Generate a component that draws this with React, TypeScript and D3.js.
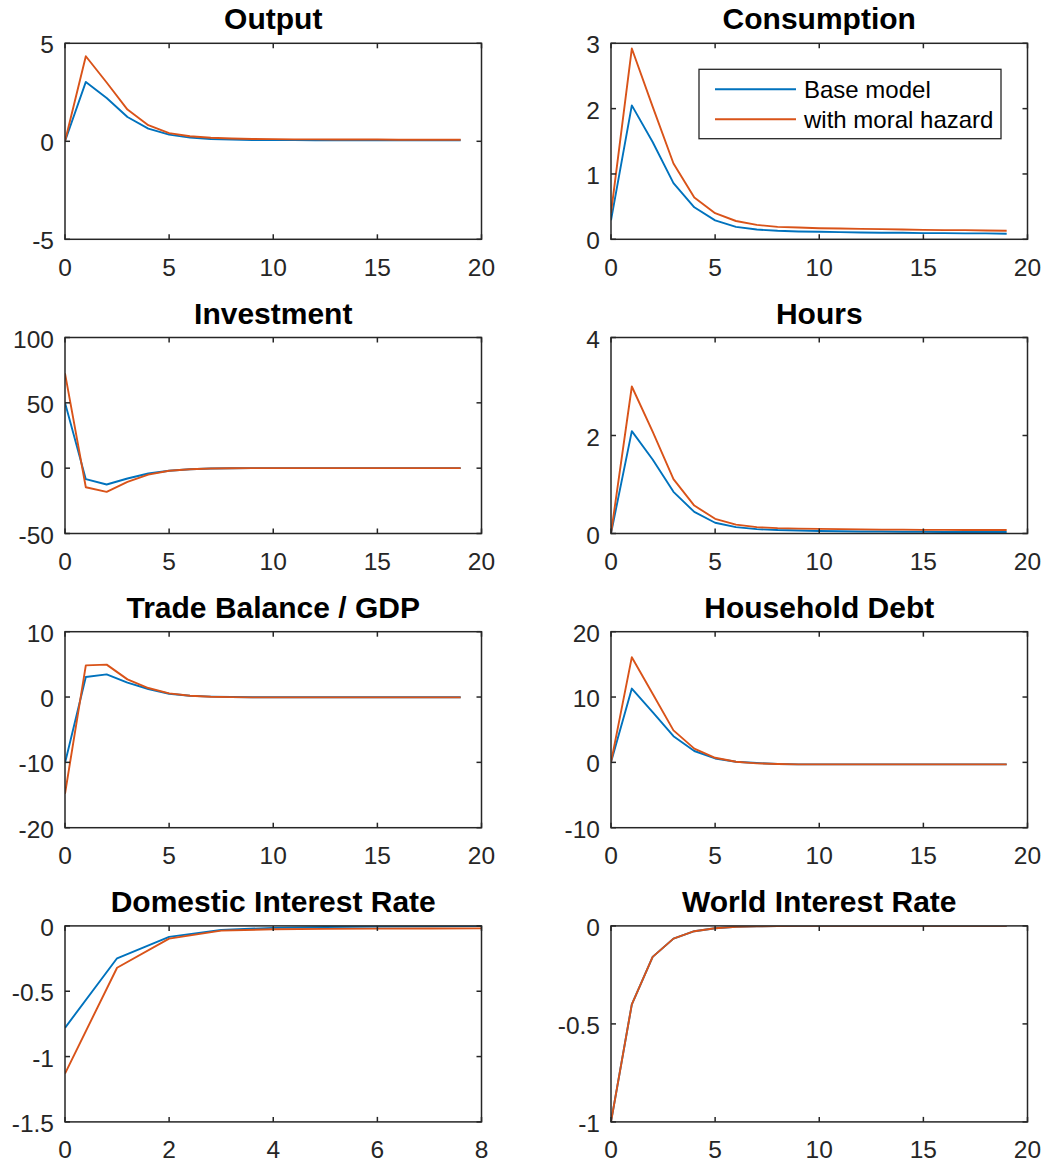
import React from "react";
import * as d3 from "d3";

// Impulse responses: base model vs. model with moral hazard
const periods = [0, 1, 2, 3, 4, 5, 6, 7, 8, 9, 10, 11, 12, 13, 14, 15, 16, 17, 18, 19];
const shortPeriods = [0, 1, 2, 3, 4, 5, 6, 7, 8];

const outputBase = [0, 3.03, 2.21, 1.24, 0.65, 0.34, 0.19, 0.12, 0.09, 0.07, 0.06, 0.06, 0.05, 0.05, 0.05, 0.05, 0.05, 0.05, 0.05, 0.05];
const outputMH = [0, 4.34, 3.0, 1.62, 0.82, 0.42, 0.26, 0.18, 0.14, 0.12, 0.11, 0.1, 0.1, 0.09, 0.09, 0.09, 0.08, 0.08, 0.08, 0.08];

const consBase = [0.29, 2.05, 1.49, 0.86, 0.49, 0.29, 0.19, 0.15, 0.13, 0.12, 0.115, 0.11, 0.105, 0.1, 0.1, 0.095, 0.095, 0.09, 0.09, 0.085];
const consMH = [0.4, 2.92, 2.03, 1.16, 0.64, 0.4, 0.28, 0.22, 0.19, 0.18, 0.17, 0.165, 0.16, 0.155, 0.15, 0.145, 0.14, 0.14, 0.135, 0.13];

const invBase = [50.1, -8.4, -12.5, -7.9, -4.1, -2.0, -0.8, -0.3, -0.1, 0, 0, 0, 0, 0, 0, 0, 0, 0, 0, 0];
const invMH = [72.6, -14.6, -18.1, -10.5, -4.9, -2.0, -0.8, -0.3, -0.1, 0, 0, 0, 0, 0, 0, 0, 0, 0, 0, 0];

const hoursBase = [0, 2.09, 1.51, 0.85, 0.44, 0.22, 0.13, 0.09, 0.07, 0.06, 0.05, 0.045, 0.04, 0.04, 0.035, 0.035, 0.03, 0.03, 0.03, 0.03];
const hoursMH = [0, 3.0, 2.08, 1.11, 0.57, 0.3, 0.18, 0.13, 0.11, 0.1, 0.095, 0.09, 0.085, 0.08, 0.08, 0.075, 0.075, 0.07, 0.07, 0.07];

const tbBase = [-10.1, 3.07, 3.47, 2.2, 1.23, 0.5, 0.2, 0.07, 0.0, -0.03, -0.04, -0.04, -0.04, -0.04, -0.03, -0.03, -0.03, -0.03, -0.03, -0.03];
const tbMH = [-14.8, 4.85, 4.96, 2.7, 1.38, 0.56, 0.2, 0.05, -0.02, -0.05, -0.05, -0.05, -0.05, -0.05, -0.05, -0.05, -0.05, -0.05, -0.05, -0.05];

const debtBase = [0, 11.3, 7.7, 4.0, 1.74, 0.6, 0.1, -0.1, -0.25, -0.3, -0.3, -0.3, -0.3, -0.3, -0.3, -0.3, -0.3, -0.3, -0.3, -0.3];
const debtMH = [0, 16.1, 10.5, 4.9, 2.1, 0.7, 0.1, -0.15, -0.25, -0.3, -0.3, -0.3, -0.3, -0.3, -0.3, -0.3, -0.3, -0.3, -0.3, -0.3];

const domRateBase = [-0.78, -0.248, -0.084, -0.031, -0.015, -0.008, -0.005, -0.003, -0.002];
const domRateMH = [-1.13, -0.32, -0.097, -0.036, -0.026, -0.023, -0.021, -0.02, -0.019];

const worldRateBase = [-1, -0.4, -0.158, -0.065, -0.027, -0.012, -0.005, -0.002, -0.001, 0, 0, 0, 0, 0, 0, 0, 0, 0, 0, 0];
const worldRateMH = [-1, -0.4, -0.158, -0.065, -0.027, -0.012, -0.005, -0.002, -0.001, 0, 0, 0, 0, 0, 0, 0, 0, 0, 0, 0];

const xTicks20 = [0, 5, 10, 15, 20];
const xTicks8 = [0, 2, 4, 6, 8];

const seriesNames = ["Base model", "with moral hazard"];
const seriesColors = ["#0072BD", "#D95319"];

type Panel = {
  title: string;
  x: number[];
  xDomain: [number, number];
  xTicks: number[];
  yDomain: [number, number];
  yTicks: number[];
  base: number[];
  mh: number[];
  legend?: boolean;
};

const panels: Panel[] = [
  { title: "Output", x: periods, xDomain: [0, 20], xTicks: xTicks20, yDomain: [-5, 5], yTicks: [-5, 0, 5], base: outputBase, mh: outputMH },
  { title: "Consumption", x: periods, xDomain: [0, 20], xTicks: xTicks20, yDomain: [0, 3], yTicks: [0, 1, 2, 3], base: consBase, mh: consMH, legend: true },
  { title: "Investment", x: periods, xDomain: [0, 20], xTicks: xTicks20, yDomain: [-50, 100], yTicks: [-50, 0, 50, 100], base: invBase, mh: invMH },
  { title: "Hours", x: periods, xDomain: [0, 20], xTicks: xTicks20, yDomain: [0, 4], yTicks: [0, 2, 4], base: hoursBase, mh: hoursMH },
  { title: "Trade Balance / GDP", x: periods, xDomain: [0, 20], xTicks: xTicks20, yDomain: [-20, 10], yTicks: [-20, -10, 0, 10], base: tbBase, mh: tbMH },
  { title: "Household Debt", x: periods, xDomain: [0, 20], xTicks: xTicks20, yDomain: [-10, 20], yTicks: [-10, 0, 10, 20], base: debtBase, mh: debtMH },
  { title: "Domestic Interest Rate", x: shortPeriods, xDomain: [0, 8], xTicks: xTicks8, yDomain: [-1.5, 0], yTicks: [-1.5, -1, -0.5, 0], base: domRateBase, mh: domRateMH },
  { title: "World Interest Rate", x: periods, xDomain: [0, 20], xTicks: xTicks20, yDomain: [-1, 0], yTicks: [-1, -0.5, 0], base: worldRateBase, mh: worldRateMH },
];

const W = 1047;
const H = 1165;
const colLeft = [65, 611];
const rowTop = [43.3, 337.5, 631.7, 925.9];
const plotW = 416.5;
const plotH = 196;
const axisColor = "#262626";
const font = "'Liberation Sans', Arial, Helvetica, sans-serif";
const tickFont = 24.5;
const titleFont = 30;
const legendFont = 24;
const tickLen = 5;
const seriesWidth = 1.9;

function fmt(v: number) {
  return String(v);
}

function PanelView({ p, idx }: { p: Panel; idx: number }) {
  const left = colLeft[idx % 2];
  const top = rowTop[Math.floor(idx / 2)];
  const x = d3.scaleLinear().domain(p.xDomain).range([left, left + plotW]);
  const y = d3.scaleLinear().domain(p.yDomain).range([top + plotH, top]);
  const line = d3
    .line<number>()
    .x((_, i) => x(p.x[i]))
    .y((d) => y(d));
  const clipId = `clip-${idx}`;
  const bottom = top + plotH;
  const right = left + plotW;

  return (
    <g>
      <defs>
        <clipPath id={clipId}>
          <rect x={left} y={top} width={plotW} height={plotH} />
        </clipPath>
      </defs>
      <text
        x={left + plotW / 2}
        y={top - 14}
        textAnchor="middle"
        fontFamily={font}
        fontWeight="bold"
        fontSize={titleFont}
        fill="#000"
      >
        {p.title}
      </text>
      <g clipPath={`url(#${clipId})`}>
        <path d={line(p.base) || ""} fill="none" stroke={seriesColors[0]} strokeWidth={seriesWidth} strokeLinejoin="round" />
        <path d={line(p.mh) || ""} fill="none" stroke={seriesColors[1]} strokeWidth={seriesWidth} strokeLinejoin="round" />
      </g>
      {/* box */}
      <rect x={left} y={top} width={plotW} height={plotH} fill="none" stroke={axisColor} strokeWidth={1.5} />
      {/* x ticks, mirrored on top */}
      {p.xTicks.map((t) => (
        <g key={`x${t}`}>
          <line x1={x(t)} x2={x(t)} y1={bottom} y2={bottom - tickLen} stroke={axisColor} strokeWidth={1.5} />
          <line x1={x(t)} x2={x(t)} y1={top} y2={top + tickLen} stroke={axisColor} strokeWidth={1.5} />
          <text
            x={x(t)}
            y={bottom + 36.5}
            textAnchor="middle"
            fontFamily={font}
            fontSize={tickFont}
            fill={axisColor}
          >
            {fmt(t)}
          </text>
        </g>
      ))}
      {/* y ticks, mirrored on right */}
      {p.yTicks.map((t) => (
        <g key={`y${t}`}>
          <line x1={left} x2={left + tickLen} y1={y(t)} y2={y(t)} stroke={axisColor} strokeWidth={1.5} />
          <line x1={right} x2={right - tickLen} y1={y(t)} y2={y(t)} stroke={axisColor} strokeWidth={1.5} />
          <text
            x={left - 11}
            y={y(t) + 10}
            textAnchor="end"
            fontFamily={font}
            fontSize={tickFont}
            fill={axisColor}
          >
            {fmt(t)}
          </text>
        </g>
      ))}
      {p.legend && (
        <g>
          <rect x={699} y={69.3} width={302} height={69.4} fill="#fff" stroke={axisColor} strokeWidth={1.3} />
          {seriesNames.map((name, i) => {
            const cy = 89.3 + i * 30;
            return (
              <g key={name}>
                <line x1={715} x2={796} y1={cy} y2={cy} stroke={seriesColors[i]} strokeWidth={seriesWidth} />
                <text x={804} y={cy + 8.5} fontFamily={font} fontSize={legendFont} fill="#000">
                  {name}
                </text>
              </g>
            );
          })}
        </g>
      )}
    </g>
  );
}

export default function App() {
  return (
    <svg
      width={W}
      height={H}
      viewBox={`0 0 ${W} ${H}`}
      style={{ position: "absolute", left: 0, top: 0, background: "#fff" }}
    >
      <rect x={0} y={0} width={W} height={H} fill="#fff" />
      {panels.map((p, i) => (
        <PanelView key={p.title} p={p} idx={i} />
      ))}
    </svg>
  );
}
